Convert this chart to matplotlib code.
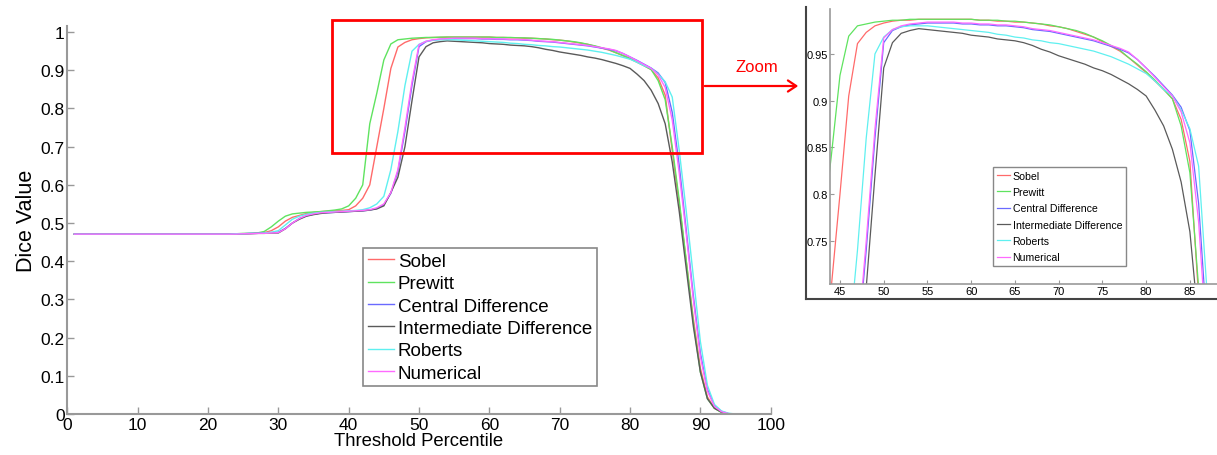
import matplotlib
matplotlib.use("Agg")
import matplotlib.pyplot as plt
from matplotlib.patches import Rectangle, FancyArrowPatch
from matplotlib.lines import Line2D
from matplotlib.ticker import FormatStrFormatter

plt.rcParams['font.family'] = ['Liberation Sans', 'DejaVu Sans']

# threshold percentile 1..100
percentile = list(range(1, 101))

# values for x = 22..95, flat 0.471 before, 0 after
sobel = [0.471] * 21 + [
    0.471, 0.471, 0.472, 0.472, 0.473, 0.473, 0.475, 0.480, 0.490, 0.505,
    0.515, 0.520, 0.525, 0.528, 0.530, 0.531, 0.532, 0.533, 0.535, 0.545,
    0.565, 0.600, 0.700, 0.800, 0.905, 0.961, 0.973, 0.980, 0.983, 0.985,
    0.986, 0.986, 0.987, 0.987, 0.987, 0.987, 0.987, 0.987, 0.987, 0.986,
    0.986, 0.985, 0.985, 0.984, 0.984, 0.983, 0.982, 0.980, 0.979, 0.977,
    0.974, 0.971, 0.968, 0.963, 0.958, 0.953, 0.946, 0.938, 0.930, 0.921,
    0.912, 0.902, 0.880, 0.835, 0.690, 0.550, 0.400, 0.250, 0.120, 0.045,
    0.015, 0.005, 0.000, 0.000] + [0.0] * 5

prewitt = [0.471] * 21 + [
    0.471, 0.472, 0.472, 0.473, 0.473, 0.474, 0.478, 0.490, 0.505, 0.518,
    0.524, 0.526, 0.528, 0.529, 0.530, 0.532, 0.534, 0.537, 0.545, 0.565,
    0.600, 0.760, 0.840, 0.927, 0.969, 0.980, 0.982, 0.984, 0.985, 0.986,
    0.986, 0.987, 0.987, 0.987, 0.987, 0.987, 0.987, 0.987, 0.987, 0.986,
    0.986, 0.986, 0.985, 0.985, 0.984, 0.983, 0.982, 0.981, 0.979, 0.977,
    0.975, 0.972, 0.968, 0.964, 0.959, 0.954, 0.946, 0.939, 0.931, 0.922,
    0.912, 0.902, 0.873, 0.823, 0.700, 0.560, 0.400, 0.240, 0.110, 0.040,
    0.015, 0.004, 0.000, 0.000] + [0.0] * 5

central = [0.471] * 21 + [
    0.471, 0.471, 0.472, 0.472, 0.473, 0.473, 0.474, 0.475, 0.476, 0.486,
    0.500, 0.512, 0.519, 0.523, 0.526, 0.527, 0.528, 0.529, 0.530, 0.531,
    0.532, 0.534, 0.538, 0.548, 0.578, 0.635, 0.740, 0.860, 0.962, 0.975,
    0.979, 0.981, 0.982, 0.983, 0.983, 0.983, 0.983, 0.982, 0.982, 0.981,
    0.981, 0.980, 0.980, 0.979, 0.978, 0.976, 0.975, 0.974, 0.972, 0.970,
    0.968, 0.966, 0.964, 0.961, 0.958, 0.955, 0.951, 0.944, 0.935, 0.926,
    0.916, 0.906, 0.893, 0.868, 0.790, 0.650, 0.480, 0.310, 0.160, 0.065,
    0.022, 0.007, 0.001, 0.000] + [0.0] * 5

intermediate = [0.471] * 21 + [
    0.471, 0.471, 0.471, 0.472, 0.472, 0.473, 0.473, 0.474, 0.474, 0.485,
    0.500, 0.510, 0.518, 0.522, 0.525, 0.527, 0.528, 0.529, 0.530, 0.531,
    0.532, 0.534, 0.537, 0.545, 0.580, 0.620, 0.700, 0.820, 0.935, 0.962,
    0.972, 0.975, 0.977, 0.976, 0.975, 0.974, 0.973, 0.972, 0.970, 0.969,
    0.968, 0.966, 0.965, 0.964, 0.962, 0.959, 0.955, 0.952, 0.948, 0.945,
    0.942, 0.939, 0.935, 0.932, 0.928, 0.923, 0.918, 0.912, 0.905, 0.890,
    0.873, 0.848, 0.813, 0.760, 0.660, 0.530, 0.380, 0.230, 0.110, 0.040,
    0.015, 0.005, 0.000, 0.000] + [0.0] * 5

roberts = [0.471] * 21 + [
    0.471, 0.471, 0.472, 0.472, 0.473, 0.473, 0.474, 0.476, 0.480, 0.495,
    0.510, 0.518, 0.523, 0.526, 0.528, 0.529, 0.530, 0.531, 0.532, 0.533,
    0.535, 0.540, 0.550, 0.570, 0.640, 0.740, 0.860, 0.950, 0.968, 0.976,
    0.979, 0.980, 0.980, 0.980, 0.979, 0.978, 0.977, 0.976, 0.975, 0.974,
    0.973, 0.971, 0.970, 0.968, 0.967, 0.965, 0.964, 0.962, 0.961, 0.959,
    0.957, 0.955, 0.953, 0.950, 0.947, 0.943, 0.939, 0.934, 0.929, 0.921,
    0.912, 0.905, 0.890, 0.870, 0.830, 0.690, 0.530, 0.360, 0.190, 0.075,
    0.025, 0.008, 0.002, 0.000] + [0.0] * 5

numerical = [0.471] * 21 + [
    0.471, 0.471, 0.471, 0.472, 0.472, 0.473, 0.473, 0.474, 0.475, 0.485,
    0.500, 0.512, 0.520, 0.524, 0.527, 0.528, 0.529, 0.530, 0.531, 0.532,
    0.533, 0.535, 0.540, 0.550, 0.580, 0.640, 0.750, 0.870, 0.967, 0.976,
    0.980, 0.982, 0.983, 0.984, 0.984, 0.984, 0.984, 0.983, 0.983, 0.982,
    0.982, 0.981, 0.981, 0.980, 0.979, 0.977, 0.976, 0.975, 0.973, 0.971,
    0.969, 0.967, 0.965, 0.962, 0.959, 0.956, 0.952, 0.944, 0.935, 0.925,
    0.915, 0.905, 0.888, 0.855, 0.770, 0.630, 0.470, 0.300, 0.150, 0.060,
    0.020, 0.006, 0.001, 0.000] + [0.0] * 5

names = ['Sobel', 'Prewitt', 'Central Difference', 'Intermediate Difference',
         'Roberts', 'Numerical']
series = [sobel, prewitt, central, intermediate, roberts, numerical]
colors = ['#ff6a6a', '#5fe35f', '#6a6aff', '#5a5a5a', '#5ff0f0', '#ff6aff']

W, H = 1217, 456
fig = plt.figure(figsize=(W / 100, H / 100), dpi=100)


def fx(px):
    return px / W


def fy(py):
    return 1 - py / H


spine_col = '#999999'

# main plot
ax = fig.add_axes([fx(67.3), fy(415), (770.7 - 67.3) / W, (415 - 27) / H])
for ys, c, n in zip(series, colors, names):
    ax.plot(percentile, ys, color=c, lw=1.0, label=n)
ax.set_xlim(0, 100)
ax.set_ylim(0, 1.016)
ax.set_xticks(range(0, 101, 10))
ax.set_yticks([i / 10 for i in range(11)])
ax.yaxis.set_major_formatter(FormatStrFormatter('%g'))
for s in ['top', 'right']:
    ax.spines[s].set_visible(False)
for s in ['left', 'bottom']:
    ax.spines[s].set_color(spine_col)
    ax.spines[s].set_linewidth(1.5)
ax.tick_params(direction='in', length=5, width=1, color=spine_col,
               labelsize=12.5, pad=2)
ax.set_xlabel('Threshold Percentile', fontsize=13.3, labelpad=0)
ax.set_ylabel('Dice Value', fontsize=15.5, labelpad=2)

leg = ax.legend(loc='upper left', bbox_to_anchor=(fx(363), fy(249)),
                bbox_transform=fig.transFigure, fontsize=13.5,
                fancybox=False, framealpha=1, edgecolor='#888888',
                handlelength=1.4, handletextpad=0.2, labelspacing=0.28,
                borderpad=0.25, borderaxespad=0)
leg.get_frame().set_linewidth(1.2)

# zoomed plot
az = fig.add_axes([fx(830), fy(285), (W - 830) / W, (285 - 10) / H])
for ys, c, n in zip(series, colors, names):
    az.plot(percentile, ys, color=c, lw=0.9, label=n)
az.set_xlim(43.86, 88.1)
az.set_ylim(0.704, 0.998)
az.set_xticks(range(45, 90, 5))
az.set_yticks([0.75, 0.8, 0.85, 0.9, 0.95])
az.yaxis.set_major_formatter(FormatStrFormatter('%g'))
for s in ['top', 'right']:
    az.spines[s].set_visible(False)
for s in ['left', 'bottom']:
    az.spines[s].set_color(spine_col)
    az.spines[s].set_linewidth(1.2)
az.tick_params(direction='in', length=3, width=0.8, color=spine_col,
               labelsize=8, pad=1.5)
leg2 = az.legend(loc='upper left', bbox_to_anchor=(fx(993), fy(168)),
                 bbox_transform=fig.transFigure, fontsize=7.6,
                 fancybox=False, framealpha=1, edgecolor='#888888',
                 handlelength=1.3, handletextpad=0.2, labelspacing=0.6,
                 borderpad=0.35, borderaxespad=0)
leg2.get_frame().set_linewidth(1.0)

# frame around zoomed panel
fig.add_artist(Line2D([fx(806), fx(806)], [fy(8), fy(300)], color='#444444',
                      lw=1.5, transform=fig.transFigure))
fig.add_artist(Line2D([fx(806), fx(W)], [fy(300), fy(300)], color='#444444',
                      lw=1.5, transform=fig.transFigure))

# red zoom box and arrow
fig.add_artist(Rectangle((fx(332), fy(154)), (702 - 332) / W, (154 - 21) / H,
                         fill=False, edgecolor='red', lw=2.0,
                         transform=fig.transFigure))
fig.add_artist(FancyArrowPatch(
    (fx(702), fy(87)), (fx(801), fy(87)),
    arrowstyle='->,head_length=6,head_width=4',
    color='red', lw=1.6, transform=fig.transFigure))
fig.text(fx(757), fy(68), 'Zoom', color='red', fontsize=12,
         ha='center', va='center')

fig.savefig('out.png', dpi=100)
